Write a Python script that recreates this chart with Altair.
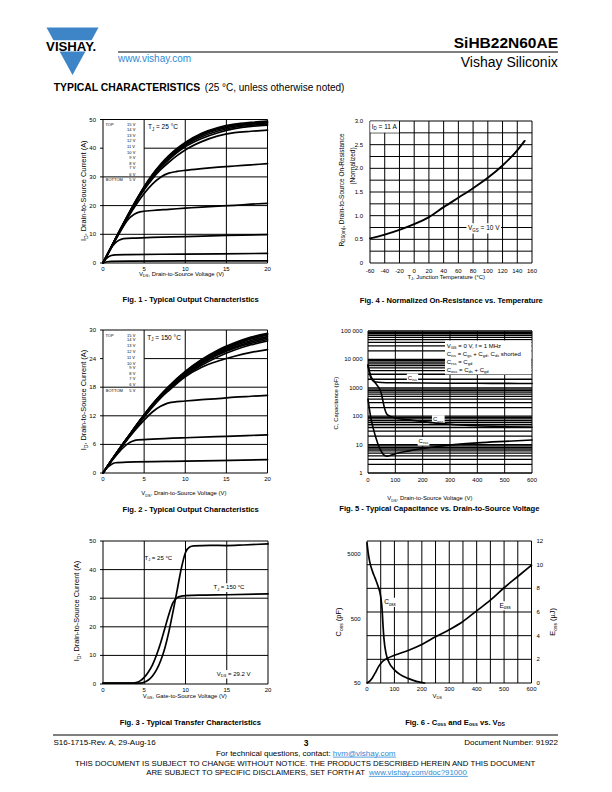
import re
import altair as alt
import pandas as pd

FONT = "Liberation Sans, Arial, Helvetica, sans-serif"
OFF = 8            # page margin around the embedded chart
BLUE = "#3d85c6"
LINK = "#2f8ad3"
SUB = 0.68         # subscript scale

# ---------------- Fig. 1 : output characteristics, TJ = 25 C ----------------
F1_X = [0, 1, 2, 3, 4, 5, 6, 7, 8, 9, 10, 12, 14, 16, 18, 20]
F1_15V = [0, 5.6, 11.2, 16.6, 21.8, 26.6, 30.8, 34.4, 37.4, 39.9, 42.0, 45.2, 47.2, 48.4, 49.0, 49.4]
F1_14V = [0, 5.6, 11.1, 16.5, 21.6, 26.4, 30.6, 34.1, 37.1, 39.6, 41.7, 44.9, 46.9, 48.1, 48.7, 49.1]
F1_13V = [0, 5.6, 11.1, 16.4, 21.5, 26.2, 30.4, 33.9, 36.8, 39.3, 41.4, 44.5, 46.5, 47.7, 48.4, 48.8]
F1_12V = [0, 5.5, 11.0, 16.3, 21.4, 26.1, 30.2, 33.6, 36.5, 38.9, 41.0, 44.0, 46.0, 47.3, 48.0, 48.4]
F1_11V = [0, 5.5, 11.0, 16.3, 21.3, 25.9, 29.9, 33.2, 36.0, 38.5, 40.5, 43.4, 45.4, 46.8, 47.6, 48.0]
F1_10V = [0, 5.5, 11.0, 16.2, 21.1, 25.5, 29.3, 32.5, 35.1, 37.4, 39.4, 42.3, 44.3, 45.4, 45.9, 46.3]
F1_9V = [0, 5.4, 10.7, 15.7, 20.2, 24.2, 27.5, 29.9, 31.3, 31.9, 32.3, 32.9, 33.4, 33.8, 34.2, 34.6]
F1_8V_X = [0, 1, 2, 3, 3.8, 4.5, 6, 8, 10, 12, 14, 16, 18, 20]
F1_8V = [0, 5.3, 10.4, 15.0, 17.0, 17.8, 18.3, 18.7, 19.1, 19.5, 19.8, 20.1, 20.5, 20.8]
F1_7V_X = [0, 0.5, 1, 1.5, 2, 2.5, 4, 6, 10, 15, 20]
F1_7V = [0, 2.7, 5.2, 7.0, 8.0, 8.5, 8.7, 8.9, 9.2, 9.6, 9.9]
F1_6V_X = [0, 0.5, 1, 1.5, 3, 10, 20]
F1_6V = [0, 1.8, 2.6, 2.85, 2.95, 3.1, 3.35]
F1_5V_X = [0, 0.5, 1, 3, 20]
F1_5V = [0, 0.45, 0.6, 0.65, 0.75]

# ---------------- Fig. 2 : output characteristics, TJ = 150 C ----------------
F2_X = [0, 1, 2, 3, 4, 5, 6, 7, 8, 10, 12, 14, 16, 18, 20]
F2_15V = [0, 2.6, 5.1, 7.5, 9.9, 12.2, 14.4, 16.4, 18.2, 21.3, 23.8, 25.8, 27.3, 28.5, 29.3]
F2_14V = [0, 2.6, 5.1, 7.5, 9.9, 12.2, 14.4, 16.3, 18.1, 21.2, 23.7, 25.6, 27.1, 28.3, 29.1]
F2_13V = [0, 2.6, 5.1, 7.5, 9.8, 12.1, 14.3, 16.3, 18.0, 21.1, 23.5, 25.4, 26.9, 28.1, 28.9]
F2_12V = [0, 2.6, 5.1, 7.4, 9.8, 12.1, 14.3, 16.2, 17.9, 20.9, 23.3, 25.2, 26.7, 27.8, 28.6]
F2_11V = [0, 2.6, 5.0, 7.4, 9.8, 12.0, 14.2, 16.1, 17.8, 20.8, 23.1, 25.0, 26.4, 27.5, 28.3]
F2_10V = [0, 2.6, 5.0, 7.4, 9.7, 12.0, 14.1, 16.0, 17.7, 20.6, 22.9, 24.8, 26.2, 27.2, 28.0]
F2_9V = [0, 2.5, 5.0, 7.3, 9.6, 11.9, 14.0, 15.9, 17.6, 20.4, 22.6, 24.4, 25.8, 26.9, 27.7]
F2_8V = [0, 2.5, 4.9, 7.2, 9.5, 11.7, 13.8, 15.7, 17.3, 20.2, 22.2, 23.5, 24.5, 25.3, 25.9]
F2_7V_X = [0, 1, 2, 3, 4, 5, 6, 7, 7.5, 8, 10, 12, 14, 16, 18, 20]
F2_7V = [0, 2.5, 4.9, 7.1, 9.2, 11.1, 12.8, 14.0, 14.4, 14.7, 15.1, 15.4, 15.6, 15.9, 16.1, 16.3]
F2_6V_X = [0, 1, 2, 3, 3.5, 4, 6, 10, 15, 20]
F2_6V = [0, 2.4, 4.5, 6.1, 6.6, 6.9, 7.1, 7.4, 7.7, 8.0]
F2_5V_X = [0, 0.5, 1, 1.5, 3, 10, 20]
F2_5V = [0, 1.1, 1.8, 2.15, 2.3, 2.5, 2.8]

# ---------------- Fig. 3 : transfer characteristics ----------------
F3_25C_X = [0, 4.5, 5, 5.5, 6, 6.5, 7, 7.5, 8, 8.5, 9, 9.5, 10, 10.5, 11, 13, 15, 17, 20]
F3_25C = [0.3, 0.3, 0.6, 1.4, 2.8, 5.0, 8.2, 12.6, 18.5, 25.5, 33.0, 40.5, 46.0, 47.9, 48.3, 48.5, 48.4, 48.6, 49.0]
F3_150C_X = [0, 3.5, 4, 4.5, 5, 5.5, 6, 6.5, 7, 7.5, 8, 8.5, 9, 9.5, 10, 12, 15, 20]
F3_150C = [0.3, 0.3, 0.5, 1.1, 2.3, 4.2, 6.7, 10.2, 14.5, 19.5, 24.5, 28.5, 30.2, 30.7, 30.9, 31.1, 31.2, 31.5]

# ---------------- Fig. 4 : normalized on-resistance ----------------
F4_T = [-60, -40, -20, 0, 20, 40, 60, 80, 100, 120, 140, 150]
F4_R = [0.52, 0.60, 0.70, 0.82, 0.97, 1.18, 1.38, 1.58, 1.80, 2.06, 2.38, 2.58]

# ---------------- Fig. 5 : capacitances ----------------
F5_CISS_V = [0, 5, 10, 15, 20, 30, 50, 100, 200, 300, 400, 500, 600]
F5_CISS = [6500, 3500, 2300, 1900, 1700, 1600, 1540, 1500, 1470, 1450, 1440, 1430, 1420]
F5_COSS_V = [0, 10, 20, 30, 40, 45, 50, 55, 60, 65, 70, 80, 100, 150, 200, 300, 400, 500, 600]
F5_COSS = [6000, 2600, 1800, 1350, 1000, 800, 560, 330, 200, 140, 115, 100, 86, 74, 65, 52, 46, 43, 41]
F5_CRSS_V = [0, 5, 10, 20, 30, 40, 50, 60, 70, 100, 150, 200, 250, 300, 400, 500, 600]
F5_CRSS = [400, 180, 90, 35, 16, 8.5, 5.5, 4.2, 3.9, 4.8, 6.0, 7.3, 8.5, 9.7, 11.5, 13.0, 14.5]

# ---------------- Fig. 6 : Coss and Eoss ----------------
F6_COSS_V = [0, 5, 10, 20, 30, 40, 50, 55, 58, 62, 70, 80, 100, 120, 150, 180, 210]
F6_COSS = [7500, 5000, 3800, 2700, 2100, 1600, 1100, 700, 420, 240, 140, 105, 80, 68, 59, 53, 50]
F6_EOSS_V = [0, 10, 20, 30, 40, 50, 60, 75, 100, 150, 200, 250, 300, 350, 400, 450, 500, 550, 600]
F6_EOSS = [0, 0.15, 0.45, 0.85, 1.3, 1.65, 1.9, 2.1, 2.35, 2.75, 3.25, 3.9, 4.5, 5.2, 6.1, 7.0, 8.05, 9.0, 9.95]

# ---------------- tick labels ----------------
X_0_20 = [0, 5, 10, 15, 20]
F1_YT = [0, 10, 20, 30, 40, 50]
F2_YT = [0, 6, 12, 18, 24, 30]
F4_XT = [-60, -40, -20, 0, 20, 40, 60, 80, 100, 120, 140, 160]
F4_YT = [0, 0.5, 1.0, 1.5, 2.0, 2.5, 3.0]
F4_YL = ["0", "0.5", "1.0", "1.5", "2.0", "2.5", "3.0"]
X_0_600 = [0, 100, 200, 300, 400, 500, 600]
F5_YT = [1, 10, 100, 1000, 10000, 100000]
F5_YL = ["1", "10", "100", "1000", "10 000", "100 000"]
F6_YL_T = [50, 500, 5000]
F6_YR_T = [0, 2, 4, 6, 8, 10, 12]
LEGEND_VGS = ["15 V", "14 V", "13 V", "12 V", "11 V", "10 V", "9 V", "8 V", "7 V", "6 V", "5 V"]
LEGEND_DY = [5.3, 9.9, 15.6, 21.4, 27.4, 33.2, 38.0, 44.0, 48.5, 55.0, 60.4]

# ---------------- panel geometry (page pixels) ----------------
P = {
    "f1": dict(xd=[0, 20], xr=[103, 267.5], yd=[0, 50], yr=[263, 119.5]),
    "f2": dict(xd=[0, 20], xr=[103, 267.5], yd=[0, 30], yr=[473, 330]),
    "f3": dict(xd=[0, 20], xr=[103, 268], yd=[0, 50], yr=[684, 541]),
    "f4": dict(xd=[-60, 160], xr=[370, 532], yd=[0, 3], yr=[263, 121]),
    "f5": dict(xd=[0, 600], xr=[368, 532], yd=[1, 100000], yr=[473, 331], log=True),
    "f6": dict(xd=[0, 600], xr=[367, 531.5], yd=[0, 12], yr=[683, 541]),
    "f6c": dict(xd=[0, 600], xr=[367, 531.5], yd=[50, 8000], yr=[683, 541], log=True),
}


def sx(k):
    p = P[k]
    return alt.Scale(domain=p["xd"], range=[p["xr"][0] - OFF, p["xr"][1] - OFF], nice=False, zero=False)


def sy(k):
    p = P[k]
    kw = dict(domain=p["yd"], range=[p["yr"][0] - OFF, p["yr"][1] - OFF], nice=False)
    if p.get("log"):
        kw["type"] = "log"
    else:
        kw["zero"] = False
    return alt.Scale(**kw)


# ---------------- text metrics (Arial / Liberation Sans) ----------------
REG = {' ': 278, '!': 278, '(': 333, ')': 333, ',': 278, '-': 333, '.': 278, '/': 278, ':': 278,
       '=': 584, '+': 584, '?': 556, '@': 1015, '°': 400, 'µ': 556,
       'A': 667, 'B': 667, 'C': 722, 'D': 722, 'E': 667, 'F': 611, 'G': 778, 'H': 722, 'I': 278,
       'J': 500, 'K': 667, 'L': 556, 'M': 833, 'N': 722, 'O': 778, 'P': 667, 'Q': 778, 'R': 722,
       'S': 667, 'T': 611, 'U': 722, 'V': 667, 'W': 944, 'X': 667, 'Y': 667, 'Z': 611,
       'a': 556, 'b': 556, 'c': 500, 'd': 556, 'e': 556, 'f': 278, 'g': 556, 'h': 556, 'i': 222,
       'j': 222, 'k': 500, 'l': 222, 'm': 833, 'n': 556, 'o': 556, 'p': 556, 'q': 556, 'r': 333,
       's': 500, 't': 278, 'u': 556, 'v': 500, 'w': 722, 'x': 500, 'y': 500, 'z': 500}
BOLD = {' ': 278, '(': 333, ')': 333, ',': 278, '-': 333, '.': 278, '/': 278, ':': 333, '=': 584,
        '+': 584, '?': 611, '@': 975, '°': 400,
        'A': 722, 'B': 722, 'C': 722, 'D': 722, 'E': 667, 'F': 611, 'G': 778, 'H': 722, 'I': 278,
        'J': 556, 'K': 722, 'L': 611, 'M': 833, 'N': 722, 'O': 778, 'P': 667, 'Q': 778, 'R': 722,
        'S': 667, 'T': 611, 'U': 722, 'V': 667, 'W': 944, 'X': 667, 'Y': 667, 'Z': 611,
        'a': 556, 'b': 611, 'c': 556, 'd': 611, 'e': 556, 'f': 333, 'g': 611, 'h': 611, 'i': 278,
        'j': 278, 'k': 556, 'l': 278, 'm': 889, 'n': 611, 'o': 611, 'p': 611, 'q': 611, 'r': 389,
        's': 556, 't': 333, 'u': 611, 'v': 556, 'w': 778, 'x': 556, 'y': 556, 'z': 500}


def tw(s, size, bold=False):
    t = BOLD if bold else REG
    return sum(556 if c.isdigit() else t.get(c, 556) for c in s) * size / 1000.0


def parts_of(s):
    out, pos = [], 0
    for m in re.finditer(r"_\{([^}]*)\}", s):
        if m.start() > pos:
            out.append((s[pos:m.start()], False))
        out.append((m.group(1), True))
        pos = m.end()
    if pos < len(s):
        out.append((s[pos:], False))
    return out


TEXT_ROWS = []
BOXES = []


def rich(s, x, y, size, anchor="middle", angle=0, bold=False, color="#000000", box=False, pad=1.0):
    """(x, y) = visual centre line of the capitals; anchor along the text direction."""
    parts = parts_of(s)
    widths = [tw(t, size * (SUB if sb else 1), bold) for t, sb in parts]
    total = sum(widths)
    start = {"start": 0.0, "middle": -total / 2, "end": -total}[anchor]
    base = 0.36 * size
    cum = start
    for (t, sb), w in zip(parts, widths):
        fs = size * (SUB if sb else 1)
        lead = len(t) - len(t.lstrip(" "))
        txt = t.strip(" ")
        along = cum + tw(" " * lead, fs, bold)
        shift = 0.22 * size if sb else 0.0
        if txt:
            if angle == 0:
                px, py = x + along, y + base + shift
            else:
                px, py = x + base + shift, y - along
            TEXT_ROWS.append(dict(px=px - OFF, py=py - OFF, text=txt, size=fs, angle=angle,
                                  color=color, weight="bold" if bold else "normal"))
        cum += w
    if box:
        BOXES.append(dict(x0=x + start - pad - OFF, x1=x + start + total + pad - OFF,
                          y0=y - 0.5 * size - pad - OFF, y1=y + 0.6 * size + pad - OFF))
    return total


# ---------------- chart building helpers ----------------
def curve_layer(k, series, sw=1.7, yk=None):
    rows = []
    for name, xv, yv in series:
        for a, b in zip(xv, yv):
            rows.append({"s": name, "x": a, "y": b})
    return alt.Chart(pd.DataFrame(rows)).mark_line(
        color="black", strokeWidth=sw, interpolate="monotone", strokeJoin="round", strokeCap="round"
    ).encode(
        x=alt.X("x:Q", scale=sx(k), axis=None),
        y=alt.Y("y:Q", scale=sy(yk or k), axis=None),
        detail="s:N",
    )


def vgrid(k, xv, sw=1.0):
    p = P[k]
    df = pd.DataFrame({"x": xv, "y0": p["yd"][0], "y1": p["yd"][1]})
    return alt.Chart(df).mark_rule(color="black", strokeWidth=sw).encode(
        x=alt.X("x:Q", scale=sx(k), axis=None),
        y=alt.Y("y0:Q", scale=sy(k), axis=None),
        y2="y1:Q",
    )


def hgrid(k, rows, sw=1.0):
    df = pd.DataFrame(rows, columns=["y", "x0", "x1"])
    return alt.Chart(df).mark_rule(color="black", strokeWidth=sw).encode(
        y=alt.Y("y:Q", scale=sy(k), axis=None),
        x=alt.X("x0:Q", scale=sx(k), axis=None),
        x2="x1:Q",
    )


def xticks(k, vals, labels, dy, size=6):
    p = P[k]
    df = pd.DataFrame({"v": vals, "b": p["yd"][0], "t": labels})
    return alt.Chart(df).mark_text(font=FONT, fontSize=size, align="center", baseline="middle",
                                   dy=dy, color="black").encode(
        x=alt.X("v:Q", scale=sx(k), axis=None),
        y=alt.Y("b:Q", scale=sy(k), axis=None),
        text="t:N",
    )


def yticks(k, vals, labels, dx, align="right", side=0, size=6, yk=None):
    p = P[k]
    df = pd.DataFrame({"v": vals, "b": p["xd"][side], "t": labels})
    return alt.Chart(df).mark_text(font=FONT, fontSize=size, align=align, baseline="middle",
                                   dx=dx, color="black").encode(
        x=alt.X("b:Q", scale=sx(k), axis=None),
        y=alt.Y("v:Q", scale=sy(yk or k), axis=None),
        text="t:N",
    )


def lbl(vals):
    return [str(v) for v in vals]


TK = 0.36  # outward tick length on the left-column value axes (in V)

# ---------------- grids ----------------
grids = [
    vgrid("f1", X_0_20),
    hgrid("f1", [(v, -TK, 20) for v in F1_YT if v != 40] + [(40, 5, 20), (40, -TK, 0)]),
    vgrid("f2", X_0_20),
    hgrid("f2", [(v, -TK, 20) for v in F2_YT if v != 24] + [(24, 5, 20), (24, -TK, 0)]),
    vgrid("f3", X_0_20),
    hgrid("f3", [(v, -TK, 20) for v in F1_YT]),
    vgrid("f4", F4_XT),
    hgrid("f4", [(v / 4, -60, 160) for v in range(0, 13)]),
    vgrid("f5", X_0_600),
    hgrid("f5", [(m * 10 ** e, 0, 600) for e in range(5) for m in range(1, 10)] + [(100000, 0, 600)], sw=1.3),
    vgrid("f6", list(range(0, 601, 50))),
    hgrid("f6", [(v, 0, 600) for v in F6_YR_T]),
]

# white cell behind the ID label of Fig. 4 (data coordinates)
f4_cell = alt.Chart(pd.DataFrame({"x0": [-59.6], "x1": [-20.7], "y0": [2.755], "y1": [2.99]})).mark_rect(
    color="white").encode(
    x=alt.X("x0:Q", scale=sx("f4"), axis=None), x2="x1:Q",
    y=alt.Y("y0:Q", scale=sy("f4"), axis=None), y2="y1:Q")

# ---------------- curves ----------------
curves = [
    curve_layer("f1", [("15", F1_X, F1_15V), ("14", F1_X, F1_14V), ("13", F1_X, F1_13V),
                       ("12", F1_X, F1_12V), ("11", F1_X, F1_11V), ("10", F1_X, F1_10V),
                       ("9", F1_X, F1_9V), ("8", F1_8V_X, F1_8V), ("7", F1_7V_X, F1_7V),
                       ("6", F1_6V_X, F1_6V), ("5", F1_5V_X, F1_5V)]),
    curve_layer("f2", [("15", F2_X, F2_15V), ("14", F2_X, F2_14V), ("13", F2_X, F2_13V),
                       ("12", F2_X, F2_12V), ("11", F2_X, F2_11V), ("10", F2_X, F2_10V),
                       ("9", F2_X, F2_9V), ("8", F2_X, F2_8V), ("7", F2_7V_X, F2_7V),
                       ("6", F2_6V_X, F2_6V), ("5", F2_5V_X, F2_5V)]),
    curve_layer("f3", [("25", F3_25C_X, F3_25C), ("150", F3_150C_X, F3_150C)]),
    curve_layer("f4", [("r", F4_T, F4_R)], sw=1.9),
    curve_layer("f5", [("ciss", F5_CISS_V, F5_CISS), ("coss", F5_COSS_V, F5_COSS),
                       ("crss", F5_CRSS_V, F5_CRSS)], sw=1.6),
    curve_layer("f6", [("coss", F6_COSS_V, F6_COSS)], sw=1.7, yk="f6c"),
    curve_layer("f6", [("eoss", F6_EOSS_V, F6_EOSS)], sw=1.7),
]

# ---------------- tick labels ----------------
ticks = [
    xticks("f1", X_0_20, lbl(X_0_20), 6.3), yticks("f1", F1_YT, lbl(F1_YT), -7),
    xticks("f2", X_0_20, lbl(X_0_20), 6.3), yticks("f2", F2_YT, lbl(F2_YT), -7),
    xticks("f3", X_0_20, lbl(X_0_20), 5.5), yticks("f3", F1_YT, lbl(F1_YT), -7),
    xticks("f4", F4_XT, lbl(F4_XT), 7.5), yticks("f4", F4_YT, F4_YL, -7),
    xticks("f5", X_0_600, lbl(X_0_600), 7.0), yticks("f5", F5_YT, F5_YL, -5.5),
    xticks("f6", X_0_600, lbl(X_0_600), 5.5),
    yticks("f6", F6_YL_T, lbl(F6_YL_T), -6.3, yk="f6c"),
    yticks("f6", F6_YR_T, lbl(F6_YR_T), 5, align="left", side=1),
]

# ---------------- header ----------------
rich("VISHAY.", 72.5, 46.0, 13.2, "middle", bold=True)
rich("SiHB22N60AE", 558, 42.0, 15.5, "end", bold=True)
rich("Vishay Siliconix", 558, 62.0, 14, "end")
rich("www.vishay.com", 118, 58.0, 10, "start", color=LINK)
rich("TYPICAL CHARACTERISTICS", 53.7, 87.5, 10.4, "start", bold=True)
rich("(25 °C, unless otherwise noted)", 204.8, 87.6, 10, "start")

# ---------------- captions ----------------
rich("Fig. 1 - Typical Output Characteristics", 191, 299, 7.6, bold=True)
rich("Fig. 2 - Typical Output Characteristics", 191, 509.5, 7.6, bold=True)
rich("Fig. 3 - Typical Transfer Characteristics", 191, 722.0, 7.6, bold=True)
rich("Fig. 4 - Normalized On-Resistance vs. Temperature", 451.7, 300, 7.6, bold=True)
rich("Fig. 5 - Typical Capacitance vs. Drain-to-Source Voltage", 440, 508.5, 7.6, bold=True)
rich("Fig. 6 - C_{oss} and E_{oss} vs. V_{DS}", 455, 722.0, 7.6, bold=True)

# ---------------- axis titles ----------------
rich("V_{DS}, Drain-to-Source Voltage (V)", 181.7, 274, 5.9)
rich("V_{DS}, Drain-to-Source Voltage (V)", 184, 493.3, 5.9)
rich("V_{GS}, Gate-to-Source Voltage (V)", 185, 695.7, 5.9)
rich("T_{J}, Junction Temperature (°C)", 446.7, 276.7, 5.9)
rich("V_{DS}, Drain-to-Source Voltage (V)", 430, 498.3, 5.9)
rich("V_{DS}", 437.3, 696, 5.9)
rich("I_{D}, Drain-to-Source Current (A)", 83.5, 190.7, 7.4, angle=270)
rich("I_{D}, Drain-to-Source Current (A)", 83.3, 400, 7.4, angle=270)
rich("I_{D}, Drain-to-Source Current (A)", 76.5, 611, 7.4, angle=270)
rich("R_{DS(on)}, Drain-to-Source On-Resistance", 341.7, 190, 6.5, angle=270)
rich("(Normalized)", 352.7, 166, 6.5, angle=270)
rich("C, Capacitance (pF)", 335.7, 403, 5.9, angle=270)
rich("C_{oss} (pF)", 338.7, 622, 7.4, angle=270)
rich("E_{oss} (µJ)", 552.5, 622, 7.4, angle=270)

# ---------------- in-plot annotations ----------------
for top in (119.5, 330):
    rich("TOP", 105.5, top + 5.3, 4, "start")
    rich("BOTTOM", 105.8, top + 60.4, 4, "start")
    for t, d in zip(LEGEND_VGS, LEGEND_DY):
        rich(t, 135.3, top + d, 4, "end")
rich("T_{J} = 25 °C", 148, 127, 6.5, "start")
rich("T_{J} = 150 °C", 147.3, 337.3, 6.5, "start")
rich("T_{J} = 25 °C", 144.5, 558, 6, "start")
rich("T_{J} = 150 °C", 213.5, 587.3, 6, "start", box=True)
rich("V_{DS} = 29.2 V", 216.7, 674, 6, "start", box=True)
rich("I_{D} = 11 A", 371.8, 126.7, 6.5, "start")
rich("V_{GS} = 10 V", 468, 228, 6.5, "start", box=True, pad=1.5)
BOXES.append(dict(x0=445 - OFF, x1=531.4 - OFF, y0=340.5 - OFF, y1=374.5 - OFF))
rich("V_{GS} = 0 V, f = 1 MHz", 446.7, 346, 6, "start")
rich("C_{iss} = C_{gs} + C_{gd}, C_{ds} shorted", 446.7, 354, 6, "start")
rich("C_{rss} = C_{gd}", 446.7, 361.7, 6, "start")
rich("C_{oss} = C_{ds} + C_{gd}", 446.7, 370, 6, "start")
rich("C_{iss}", 412.5, 377.5, 6, "middle", box=True)
rich("C_{oss}", 438.3, 419.2, 6, "middle", box=True)
rich("C_{rss}", 423.5, 441, 6, "middle", box=True)
rich("C_{oss}", 390, 602, 6.5, "middle", box=True)
rich("E_{oss}", 505, 605.5, 6.5, "middle", box=True)

# ---------------- footer ----------------
RULES = [dict(x0=118, x1=558, y=52.0, w=1.0, c="#000000"),
         dict(x0=53, x1=558, y=735.0, w=1.0, c="#000000")]
rich("S16-1715-Rev. A, 29-Aug-16", 53.5, 742.0, 8, "start")
rich("3", 306, 742.5, 8.5, "middle", bold=True)
rich("Document Number: 91922", 558, 742.0, 8, "end")
a1, b1 = "For technical questions, contact: ", "hvm@vishay.com"
w_a1, w_b1 = tw(a1, 8), tw(b1, 8)
left1 = 306 - (w_a1 + w_b1) / 2
rich(a1, left1, 753.0, 8, "start")
rich(b1, left1 + w_a1, 753.0, 8, "start", color=LINK)
RULES.append(dict(x0=left1 + w_a1, x1=left1 + w_a1 + w_b1, y=757.1, w=0.8, c=LINK))
rich("THIS DOCUMENT IS SUBJECT TO CHANGE WITHOUT NOTICE. THE PRODUCTS DESCRIBED HEREIN AND THIS DOCUMENT",
     306, 763.6, 7.8, "middle")
a2, b2 = "ARE SUBJECT TO SPECIFIC DISCLAIMERS, SET FORTH AT ", "www.vishay.com/doc?91000"
w_a2, w_b2 = tw(a2, 7.8), tw(b2, 7.8)
left2 = 307 - (w_a2 + w_b2) / 2
rich(a2, left2, 772.4, 7.8, "start")
rich(b2, left2 + w_a2, 772.4, 7.8, "start", color=LINK)
RULES.append(dict(x0=left2 + w_a2, x1=left2 + w_a2 + w_b2, y=776.4, w=0.8, c=LINK))

# ---------------- pixel-space layers ----------------
box_layer = alt.Chart(pd.DataFrame(BOXES)).mark_rect(color="white").encode(
    x=alt.X("x0:Q", scale=None, axis=None), x2="x1:Q",
    y=alt.Y("y0:Q", scale=None, axis=None), y2="y1:Q")

rdf = pd.DataFrame(RULES)
rdf[["x0", "x1", "y"]] = rdf[["x0", "x1", "y"]] - OFF
rule_layer = alt.Chart(rdf).mark_rule().encode(
    x=alt.X("x0:Q", scale=None, axis=None), x2="x1:Q",
    y=alt.Y("y:Q", scale=None, axis=None),
    color=alt.Color("c:N", scale=None, legend=None),
    strokeWidth=alt.StrokeWidth("w:Q", scale=None, legend=None))

# logo: blue inverted triangle cut by a white band carrying the name
LOGO = pd.DataFrame({"x": [46.5 - OFF, 72.5 - OFF, 98.5 - OFF],
                     "y": [27.5 - OFF, 27.5 - OFF, 27.5 - OFF],
                     "y2": [27.5 - OFF, 75.0 - OFF, 27.5 - OFF]})
logo = alt.Chart(LOGO).mark_area(color=BLUE, opacity=1, interpolate="linear").encode(
    x=alt.X("x:Q", scale=None, axis=None),
    y=alt.Y("y:Q", scale=None, axis=None), y2="y2:Q")
band = alt.Chart(pd.DataFrame({"x0": [40 - OFF], "x1": [105 - OFF], "y0": [40.2 - OFF], "y1": [51.6 - OFF]})).mark_rect(
    color="white").encode(
    x=alt.X("x0:Q", scale=None, axis=None), x2="x1:Q",
    y=alt.Y("y0:Q", scale=None, axis=None), y2="y1:Q")

tdf = pd.DataFrame(TEXT_ROWS)


def text_layer(df, bold):
    return alt.Chart(df).mark_text(font=FONT, align="left", baseline="alphabetic",
                                   fontWeight="bold" if bold else "normal").encode(
        x=alt.X("px:Q", scale=None, axis=None),
        y=alt.Y("py:Q", scale=None, axis=None),
        text="text:N",
        size=alt.Size("size:Q", scale=None, legend=None),
        angle=alt.Angle("angle:Q", scale=None, legend=None),
        color=alt.Color("color:N", scale=None, legend=None),
    )


layers = (grids + [f4_cell, box_layer] + curves + ticks +
          [logo, band, rule_layer,
           text_layer(tdf[tdf.weight == "normal"], False),
           text_layer(tdf[tdf.weight == "bold"], True)])

chart = alt.layer(*layers).resolve_scale(
    x="independent", y="independent"
).properties(
    width=596, height=776, padding=0, background="white",
    autosize=alt.AutoSizeParams(type="none"),
).configure_view(strokeWidth=0)

chart.save("out.html", embed_options={"renderer": "svg", "actions": False})
